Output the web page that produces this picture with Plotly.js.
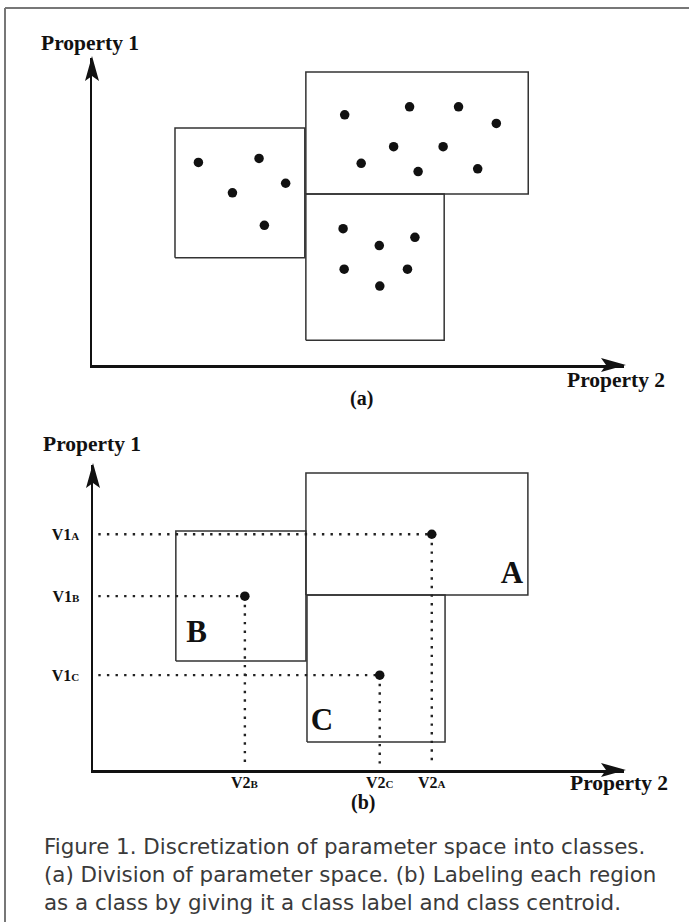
<!DOCTYPE html>
<html>
<head>
<meta charset="utf-8">
<script src="https://cdn.plot.ly/plotly-3.0.1.min.js"></script>
<style>html,body{margin:0;padding:0;background:#fff;}#chart{width:689px;height:922px;}</style>
</head>
<body>
<div id="chart"></div>
<script>
// ---------- Panel (a): regions and sample points ----------
const regionNamesA = ['A', 'B', 'C'];
const regionX0A = [40.2, 15.6, 40.2];
const regionX1A = [82.0, 40.0, 66.2];
const regionY0A = [55.7, 34.9, 8.1];
const regionY1A = [95.4, 77.2, 55.7];

const pointsX = [20.0, 31.4, 26.4, 36.4, 32.4,
                 47.5, 59.7, 68.9, 76.0, 56.7, 66.0, 50.6, 61.3, 72.5,
                 47.2, 54.0, 60.7, 47.4, 59.3, 54.1];
const pointsY = [66.0, 67.3, 56.1, 59.2, 45.5,
                 81.5, 84.1, 84.1, 78.7, 71.1, 71.1, 65.7, 63.0, 63.9,
                 44.4, 38.9, 41.6, 31.2, 31.2, 25.7];

// ---------- Panel (b): labelled classes and centroids ----------
const classNames = ['A', 'B', 'C'];
const classX0 = [40.1, 15.6, 40.3];
const classX1 = [81.9, 40.1, 66.3];
const classY0 = [57.4, 35.7, 9.2];
const classY1 = [97.4, 78.4, 57.4];
const centroidX = [63.8, 28.6, 54.0];
const centroidY = [77.3, 57.0, 31.1];
const classLabelX = [78.9, 19.5, 43.1];
const classLabelY = [63.9, 44.6, 15.7];

const yTickPrefix = 'V1';
const xTickPrefix = 'V2';

const captionLines = [
  'Figure 1. Discretization of parameter space into classes.',
  '(a) Division of parameter space. (b) Labeling each region',
  'as a class by giving it a class label and class centroid.'
];

// ---------- layout helpers ----------
const W = 689, H = 922;
const px = v => v / W;
const py = v => 1 - v / H;
const SERIF = 'Liberation Serif, Times New Roman, serif';
const SANS = 'DejaVu Sans, sans-serif';
const BOX_COLOR = '#333';
const INK = '#111';

function rectTrace(x0, x1, y0, y1, xa, ya) {
  return {
    type: 'scatter', mode: 'lines', xaxis: xa, yaxis: ya,
    x: [x0, x1, x1, x0, x0], y: [y0, y0, y1, y1, y0],
    line: {color: BOX_COLOR, width: 1.5}, hoverinfo: 'skip', showlegend: false
  };
}

const traces = [];
regionNamesA.forEach((n, i) => traces.push(rectTrace(regionX0A[i], regionX1A[i], regionY0A[i], regionY1A[i], 'x', 'y')));
traces.push({
  type: 'scatter', mode: 'markers', xaxis: 'x', yaxis: 'y',
  x: pointsX, y: pointsY,
  marker: {color: INK, size: 9.5}, hoverinfo: 'skip', showlegend: false
});

classNames.forEach((n, i) => traces.push(rectTrace(classX0[i], classX1[i], classY0[i], classY1[i], 'x2', 'y2')));
const dotStyle = {color: '#222', width: 2.4, dash: '2.4px,6.2px'};
classNames.forEach((n, i) => {
  traces.push({
    type: 'scatter', mode: 'lines', xaxis: 'x2', yaxis: 'y2',
    x: [1, centroidX[i]], y: [centroidY[i], centroidY[i]],
    line: dotStyle, hoverinfo: 'skip', showlegend: false
  });
  traces.push({
    type: 'scatter', mode: 'lines', xaxis: 'x2', yaxis: 'y2',
    x: [centroidX[i], centroidX[i]], y: [centroidY[i], 2],
    line: dotStyle, hoverinfo: 'skip', showlegend: false
  });
});
traces.push({
  type: 'scatter', mode: 'markers', xaxis: 'x2', yaxis: 'y2',
  x: centroidX, y: centroidY,
  marker: {color: INK, size: 9.5}, hoverinfo: 'skip', showlegend: false
});
traces.push({
  type: 'scatter', mode: 'text', xaxis: 'x2', yaxis: 'y2',
  x: classLabelX, y: classLabelY, text: classNames.map(n => '<b>' + n + '</b>'),
  textposition: 'middle center',
  textfont: {family: SERIF, size: 31, color: INK}, hoverinfo: 'skip', showlegend: false
});

// "V1" + small-capital class letter
const tickText = (prefix, letter) => '<b>' + prefix + '<span style="font-size:11px">' + letter + '</span></b>';

const baseAxis = {
  range: [0, 100], showgrid: false, zeroline: false, showline: true,
  linecolor: INK, linewidth: 2.5, ticks: '', fixedrange: true
};

const labelFont = {family: SERIF, size: 21.5, color: INK};
const headRight = 'M2,0 L-23,-7 L-18,0 L-23,7 Z';
const headUp = 'M0,2 L-7,-23 L0,-18 L7,-23 Z';
// arrowheads are anchored to the axis domain ends (domain refs are not clipped)
const arrowHead = (xr, yr, xa, ya, path) => ({
  type: 'path', xref: xr, yref: yr, xsizemode: 'pixel', ysizemode: 'pixel',
  xanchor: xa, yanchor: ya, path: path, fillcolor: INK, line: {width: 0}, layer: 'above'
});

const layout = {
  width: W, height: H,
  margin: {l: 0, r: 0, t: 0, b: 0},
  paper_bgcolor: '#fff', plot_bgcolor: 'rgba(0,0,0,0)',
  showlegend: false,
  xaxis: Object.assign({}, baseAxis, {domain: [px(92), px(624)], anchor: 'y', showticklabels: false}),
  yaxis: Object.assign({}, baseAxis, {domain: [py(365), py(58)], anchor: 'x', showticklabels: false}),
  xaxis2: Object.assign({}, baseAxis, {domain: [px(93), px(624)], anchor: 'y2', showticklabels: false}),
  yaxis2: Object.assign({}, baseAxis, {
    domain: [py(770), py(465)], anchor: 'x2',
    tickvals: centroidY, ticktext: classNames.map(n => tickText(yTickPrefix, n)),
    tickfont: {family: SERIF, size: 16, color: INK}, ticklabelstandoff: 8
  }),
  shapes: [
    // page frame
    {type: 'line', xref: 'paper', yref: 'paper', x0: px(5), x1: px(5), y0: py(8), y1: 0, line: {color: '#777', width: 2}},
    {type: 'line', xref: 'paper', yref: 'paper', x0: px(5), x1: 1, y0: py(8), y1: py(8), line: {color: '#777', width: 2}},
    arrowHead('x domain', 'y domain', 1, 0, headRight),
    arrowHead('x domain', 'y domain', 0, 1, headUp),
    arrowHead('x2 domain', 'y2 domain', 1, 0, headRight),
    arrowHead('x2 domain', 'y2 domain', 0, 1, headUp)
  ],
  annotations: [
    {text: '<b>Property 1</b>', xref: 'paper', yref: 'paper', x: px(39), y: py(43), xanchor: 'left', yanchor: 'middle', showarrow: false, font: labelFont},
    {text: '<b>Property 2</b>', xref: 'paper', yref: 'paper', x: px(565), y: py(380), xanchor: 'left', yanchor: 'middle', showarrow: false, font: labelFont},
    {text: '<b>(a)</b>', xref: 'paper', yref: 'paper', x: px(362), y: py(398), xanchor: 'center', yanchor: 'middle', showarrow: false, font: {family: SERIF, size: 20, color: INK}},
    {text: '<b>Property 1</b>', xref: 'paper', yref: 'paper', x: px(41), y: py(444), xanchor: 'left', yanchor: 'middle', showarrow: false, font: labelFont},
    {text: '<b>Property 2</b>', xref: 'paper', yref: 'paper', x: px(568), y: py(783), xanchor: 'left', yanchor: 'middle', showarrow: false, font: labelFont},
    {text: '<b>(b)</b>', xref: 'paper', yref: 'paper', x: px(363), y: py(802), xanchor: 'center', yanchor: 'middle', showarrow: false, font: {family: SERIF, size: 20, color: INK}}
  ].concat(classNames.map((n, i) => ({
    // x-axis tick labels under each centroid
    text: tickText(xTickPrefix, n), xref: 'x2', yref: 'paper', x: centroidX[i], y: py(782),
    xanchor: 'center', yanchor: 'middle', showarrow: false, font: {family: SERIF, size: 16, color: INK}
  }))).concat(captionLines.map((t, i) => ({
    text: t, xref: 'paper', yref: 'paper', x: px(42), y: py(846 + 28 * i), xanchor: 'left', yanchor: 'middle',
    showarrow: false, font: {family: SANS, size: 21.4, color: '#3a3a3a'}
  })))
};

Plotly.newPlot('chart', traces, layout, {staticPlot: true, displayModeBar: false});
</script>
</body>
</html>
